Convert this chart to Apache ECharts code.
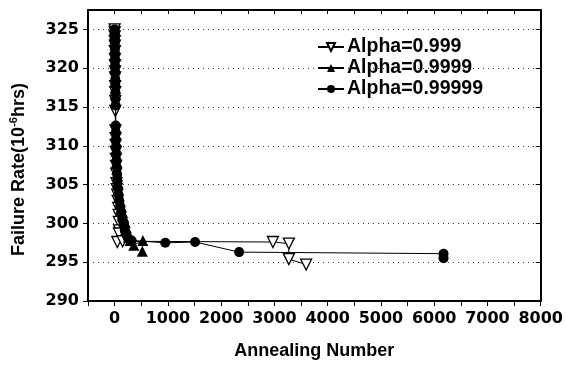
<!DOCTYPE html>
<html>
<head>
<meta charset="utf-8">
<script src="https://cdn.jsdelivr.net/npm/echarts@6/dist/echarts.min.js"></script>
<style>
    html, body { margin: 0; padding: 0; background: #fff; }
    #main { width: 566px; height: 365px; }
</style>
</head>
<body>
<div id="main"></div>
<script>
// 图例名称
var seriesNames = ['Alpha=0.999', 'Alpha=0.9999', 'Alpha=0.99999'];

// [annealing number, failure rate]
var alpha999 = [
    [0, 325], [1, 324.6], [2, 324.1], [3, 323.5], [4, 322.9], [5, 322.2], [6, 321.2], [7, 320.4],
    [8, 319.6], [9, 318.8], [10, 317.7], [11, 316.9], [12, 315.8], [13, 314.5], [15, 312.0],
    [17, 311.0], [19, 310.1], [21, 309.2], [24, 308.3], [27, 307.4], [30, 306.4], [34, 305.2],
    [40, 304.4], [48, 303.7], [57, 302.9], [66, 302.0], [74, 301.1], [80, 300.2], [84, 299.1],
    [80, 298.7], [50, 297.6], [150, 297.7], [2972, 297.6], [3271, 297.4], [3271, 295.4], [3595, 294.7]
];
var alpha9999 = [
    [0, 325], [2, 324.4], [3, 323.8], [5, 323.0], [6, 322.3], [8, 321.5], [9, 320.7], [11, 319.9],
    [12, 319.0], [14, 318.2], [15, 317.4], [17, 316.6], [18, 315.8], [20, 312.3], [22, 311.4],
    [25, 310.5], [28, 309.6], [32, 308.7], [36, 307.9], [41, 307.0], [47, 306.2], [54, 305.3],
    [65, 304.4], [85, 303.6], [110, 302.8], [130, 302.1], [150, 301.4], [175, 300.8], [200, 300.1],
    [220, 299.4], [240, 298.8], [260, 298.2], [290, 297.8], [360, 297.2], [530, 297.8], [520, 296.4]
];
var alpha99999 = [
    [0, 325], [1, 324.3], [3, 323.6], [4, 322.8], [6, 322.0], [7, 321.2], [9, 320.3], [10, 319.5],
    [12, 318.6], [13, 317.8], [15, 316.9], [16, 316.0], [18, 315.2], [20, 312.6], [23, 311.7],
    [26, 310.8], [29, 309.9], [33, 309.0], [37, 308.1], [42, 307.2], [48, 306.3], [55, 305.4],
    [63, 304.5], [73, 303.7], [86, 302.9], [102, 302.1], [120, 301.3], [142, 300.5], [165, 299.8],
    [190, 299.1], [215, 298.6], [250, 298.1], [320, 297.8], [951, 297.5], [1511, 297.6],
    [2338, 296.3], [6175, 296.1], [6175, 295.5]
];

var tickFont = 'DejaVu Sans';
var textFont = 'Liberation Sans';

function initAnnealChart(ele) {
    var chart = echarts.init(ele);
    var lineStyle = { color: '#000', width: 1 };
    var option = {
        animation: false,
        backgroundColor: '#fff',
        legend: {
            left: 312,
            top: 32,
            orient: 'vertical',
            itemWidth: 26,
            itemHeight: 10,
            itemGap: 1,
            textStyle: {
                fontFamily: textFont,
                fontSize: 19.5,
                fontWeight: 'bold',
                lineHeight: 18,
                color: '#000',
                padding: [0, 0, 0, -2]
            },
            data: seriesNames
        },
        grid: {
            left: 87,
            right: 23,
            top: 10,
            bottom: 59
        },
        xAxis: [
            {
                type: 'value',
                min: -500,
                max: 8000,
                interval: 500,
                name: 'Annealing Number',
                nameLocation: 'middle',
                nameGap: 41,
                nameTextStyle: {
                    fontFamily: textFont,
                    fontSize: 18,
                    fontWeight: 'bold',
                    color: '#000'
                },
                axisLine: { show: true, onZero: false, lineStyle: { color: '#000', width: 2 } },
                axisTick: { show: true, inside: false, length: 5, lineStyle: { color: '#000' } },
                axisLabel: {
                    margin: 10,
                    fontFamily: tickFont,
                    fontSize: 16,
                    fontWeight: 'bold',
                    color: '#000',
                    formatter: function (v) {
                        return v % 1000 === 0 ? String(v) : '';
                    }
                },
                splitLine: { show: false }
            },
            {
                type: 'value',
                position: 'top',
                min: -500,
                max: 8000,
                interval: 500,
                axisLine: { show: true, onZero: false, lineStyle: { color: '#000', width: 2 } },
                axisTick: { show: true, inside: true, length: 4, lineStyle: { color: '#000' } },
                axisLabel: { show: false },
                splitLine: { show: false }
            }
        ],
        yAxis: [
            {
                type: 'value',
                min: 290,
                max: 327.5,
                interval: 5,
                name: '{a|Failure Rate(10}{s|-6}{a|hrs)}',
                nameLocation: 'middle',
                nameRotate: 90,
                nameGap: 58,
                nameTextStyle: {
                    padding: [0, 28, 0, 0],
                    rich: {
                        a: {
                            fontFamily: textFont,
                            fontSize: 18,
                            fontWeight: 'bold',
                            lineHeight: 22,
                            color: '#000'
                        },
                        s: {
                            fontFamily: textFont,
                            fontSize: 11,
                            fontWeight: 'bold',
                            lineHeight: 11,
                            verticalAlign: 'top',
                            color: '#000'
                        }
                    }
                },
                axisLine: { show: true, onZero: false, lineStyle: { color: '#000', width: 2 } },
                axisTick: { show: true, inside: false, length: 5, lineStyle: { color: '#000' } },
                axisLabel: {
                    margin: 9,
                    fontFamily: tickFont,
                    fontSize: 16,
                    fontWeight: 'bold',
                    color: '#000',
                    showMaxLabel: false
                },
                splitLine: {
                    show: true,
                    lineStyle: { type: [1, 4], color: '#333', width: 1 }
                }
            },
            {
                type: 'value',
                position: 'right',
                min: 290,
                max: 327.5,
                interval: 5,
                axisLine: { show: true, onZero: false, lineStyle: { color: '#000', width: 2 } },
                axisTick: { show: true, inside: true, length: 5, lineStyle: { color: '#000' } },
                axisLabel: { show: false },
                splitLine: { show: false }
            }
        ],
        series: [
            {
                name: seriesNames[0],
                type: 'line',
                data: alpha999,
                symbol: 'triangle',
                symbolRotate: 180,
                symbolSize: 11,
                lineStyle: lineStyle,
                itemStyle: { color: '#fff', borderColor: '#000', borderWidth: 1.3 },
                z: 2
            },
            {
                name: seriesNames[1],
                type: 'line',
                data: alpha9999,
                symbol: 'triangle',
                symbolSize: 11,
                lineStyle: lineStyle,
                itemStyle: { color: '#000' },
                z: 3
            },
            {
                name: seriesNames[2],
                type: 'line',
                data: alpha99999,
                symbol: 'circle',
                symbolSize: 10,
                lineStyle: lineStyle,
                itemStyle: { color: '#000' },
                z: 4
            }
        ]
    };
    chart.setOption(option);
    return chart;
}

initAnnealChart(document.getElementById('main'));
</script>
</body>
</html>
